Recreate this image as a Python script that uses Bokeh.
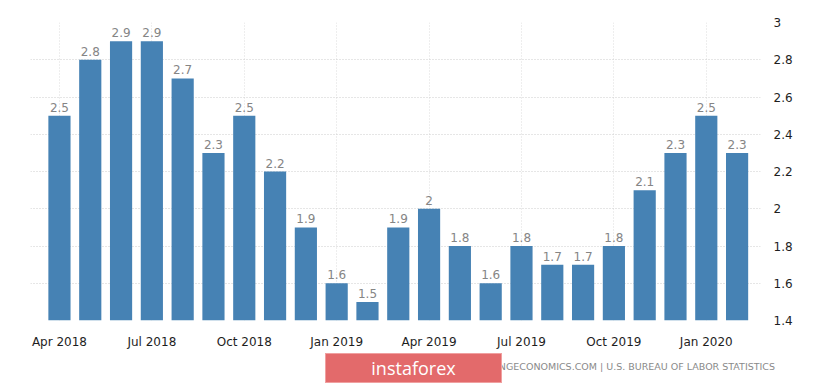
from bokeh.plotting import figure
from bokeh.layouts import column
from bokeh.models import FixedTicker, ColumnDataSource, Div
from bokeh.core.properties import value
from bokeh.embed import file_html
from bokeh.resources import INLINE

months = ["Apr 2018", "May 2018", "Jun 2018", "Jul 2018", "Aug 2018", "Sep 2018",
          "Oct 2018", "Nov 2018", "Dec 2018", "Jan 2019", "Feb 2019", "Mar 2019",
          "Apr 2019", "May 2019", "Jun 2019", "Jul 2019", "Aug 2019", "Sep 2019",
          "Oct 2019", "Nov 2019", "Dec 2019", "Jan 2020", "Feb 2020"]
values = [2.5, 2.8, 2.9, 2.9, 2.7, 2.3, 2.5, 2.2, 1.9, 1.6, 1.5, 1.9,
          2.0, 1.8, 1.6, 1.8, 1.7, 1.7, 1.8, 2.1, 2.3, 2.5, 2.3]
x_tick_labels = ["Apr 2018", "Jul 2018", "Oct 2018", "Jan 2019",
                 "Apr 2019", "Jul 2019", "Oct 2019", "Jan 2020"]
y_ticks = [1.4, 1.6, 1.8, 2.0, 2.2, 2.4, 2.6, 2.8, 3.0]
y_tick_labels = ["1.4", "1.6", "1.8", "2", "2.2", "2.4", "2.6", "2.8", "3"]
source_text = "TRADINGECONOMICS.COM | U.S. BUREAU OF LABOR STATISTICS"
watermark = "instaforex"

idx = list(range(len(months)))
x_tick_pos = [months.index(m) for m in x_tick_labels]
src = ColumnDataSource(dict(x=idx, top=values, label=[f"{v:g}" for v in values]))

p = figure(width=809, height=352, output_backend="svg", toolbar_location=None,
           x_range=(-0.94, 22.76), y_range=(1.4, 3.0), y_axis_location="right",
           min_border_left=30, min_border_right=49, min_border_top=22,
           min_border_bottom=32, outline_line_color=None)

p.vbar(x="x", top="top", bottom=1.4, width=0.72, source=src,
       fill_color="#4682b4", line_color=None)
p.text(x="x", y="top", text="label", source=src, text_align="center",
       text_baseline="bottom", y_offset=-4, text_color="#858585",
       text_font=value("DejaVu Sans"), text_font_size="12px")

p.xaxis.ticker = FixedTicker(ticks=x_tick_pos)
p.xaxis.major_label_overrides = {pos: lab for pos, lab in zip(x_tick_pos, x_tick_labels)}
p.yaxis.ticker = FixedTicker(ticks=y_ticks)
p.yaxis.major_label_overrides = {t: lab for t, lab in zip(y_ticks, y_tick_labels)}

for ax in (p.xaxis, p.yaxis):
    ax.axis_line_color = None
    ax.major_tick_line_color = None
    ax.minor_tick_line_color = None
    ax.major_label_text_font = "DejaVu Sans"
    ax.major_label_text_font_size = "12px"
    ax.major_label_text_color = "#1e1e1e"
p.xaxis.major_label_standoff = 8
p.yaxis.major_label_standoff = 7

p.xgrid.grid_line_color = "#dddddd"
p.xgrid.grid_line_dash = "1 2"
p.ygrid.grid_line_color = "#cccccc"
p.ygrid.grid_line_dash = "1 2"

footer_html = (
    '<div style="position:relative;width:809px;height:32px;">'
    '<span style="position:absolute;right:34px;top:9px;white-space:nowrap;'
    'font-family:\'DejaVu Sans\';font-size:9.5px;line-height:12px;color:#8a8a8a;">'
    f'{source_text}</span>'
    '<div style="position:absolute;left:325px;top:1px;width:177px;height:30px;'
    'box-sizing:border-box;border:1px solid #f0a0a0;background:#e36a6b;color:#ffffff;'
    'font-family:\'Open Sans\';font-size:18px;line-height:28px;text-align:center;">'
    f'{watermark}</div></div>'
)
footer = Div(text=footer_html, width=809, height=32, margin=0,
             styles={"padding": "0px", "margin": "0px"})

layout = column(p, footer, spacing=0)
open("out.html", "w").write(file_html(layout, INLINE))
